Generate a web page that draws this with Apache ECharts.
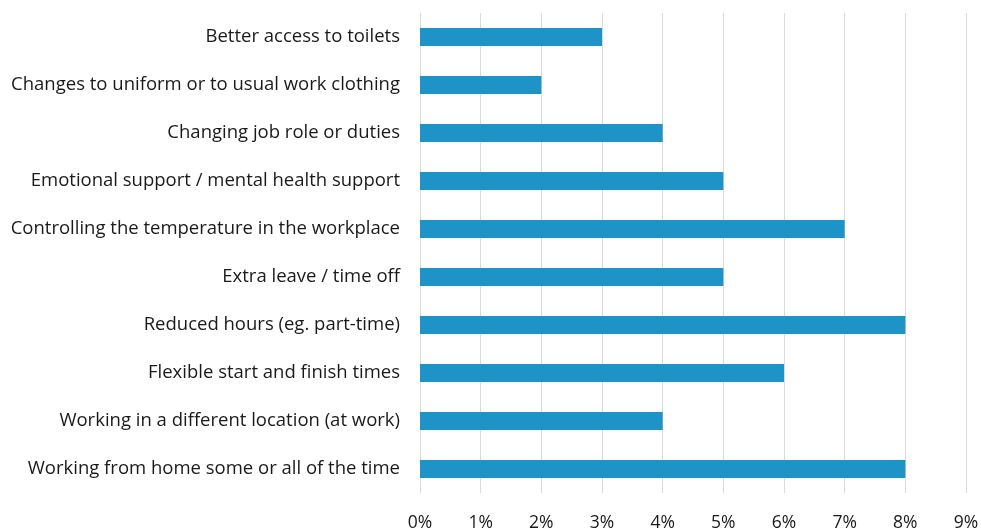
<!DOCTYPE html>
<html><head><meta charset="utf-8">
<script src="https://cdn.jsdelivr.net/npm/echarts@6/dist/echarts.min.js"></script>
<style>html,body{margin:0;padding:0;background:#fff}#c{width:981px;height:528px}</style>
</head><body><div id="c"></div>
<script>
const categories = [
  "Working from home some or all of the time",
  "Working in a different location (at work)",
  "Flexible start and finish times",
  "Reduced hours (eg. part-time)",
  "Extra leave / time off",
  "Controlling the temperature in the workplace",
  "Emotional support / mental health support",
  "Changing job role or duties",
  "Changes to uniform or to usual work clothing",
  "Better access to toilets"
];
const values = [8, 4, 6, 8, 5, 7, 5, 4, 2, 3];
const xTicks = [0, 1, 2, 3, 4, 5, 6, 7, 8, 9];

const chart = echarts.init(document.getElementById('c'));
chart.setOption({
  animation: false,
  grid: { left: 420, right: 15, top: 13, bottom: 35, containLabel: false, outerBoundsMode: 'none' },
  xAxis: {
    type: 'value', min: xTicks[0], max: xTicks[xTicks.length - 1], interval: 1,
    axisLine: { show: false }, axisTick: { show: false },
    splitLine: { show: true, lineStyle: { color: '#d9d9d9', width: 1 } },
    axisLabel: { formatter: v => v + '%', color: '#1a1a1a', fontSize: 17.5, fontFamily: 'Open Sans', margin: 21 }
  },
  yAxis: {
    type: 'category', data: categories,
    axisLine: { show: false }, axisTick: { show: false },
    axisLabel: { color: '#1a1a1a', fontSize: 18.5, fontFamily: 'Open Sans', margin: 20 }
  },
  series: [{
    type: 'bar', data: values, barWidth: 18,
    itemStyle: { color: '#1E93C7' }
  }]
});
</script></body></html>
